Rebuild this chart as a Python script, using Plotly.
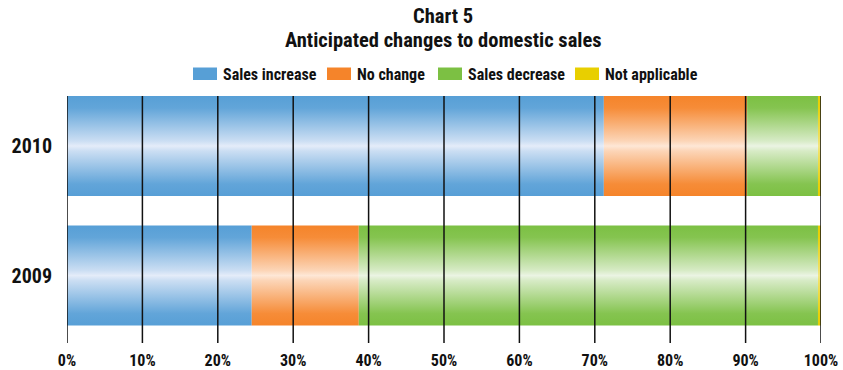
import plotly.graph_objects as go

# Survey shares (percent of respondents) by year
years = ["2009", "2010"]
series = ["Sales increase", "No change", "Sales decrease", "Not applicable"]
sales_increase = [24.5, 71.2]
no_change = [14.2, 19.0]
sales_decrease = [60.9, 9.4]
not_applicable = [0.4, 0.4]
x_ticks = [0, 10, 20, 30, 40, 50, 60, 70, 80, 90, 100]
x_tick_labels = [f"{v}%" for v in x_ticks]
title_lines = ["Chart 5", "Anticipated changes to domestic sales"]

values = [sales_increase, no_change, sales_decrease, not_applicable]
edge_colors = ["#579fd6", "#f5842a", "#7cc043", "#e8cf00"]
mid_colors = ["#e4ecf9", "#fee7d6", "#ebf4e3", "#f3e680"]

FONT = "Roboto Condensed, Roboto, sans-serif"
INK = "#111111"
HALF = 0.386  # half of the bar thickness in category units

W, H = 843, 370
ML, MR, MT, MB = 67, 22, 96, 27
PW, PH = W - ML - MR, H - MT - MB


def px_x(px):
    return (px - ML) / PW


def px_y(py):
    return 1 - (py - MT) / PH


def blend(c1, c2, t):
    a = [int(c1[i:i + 2], 16) for i in (1, 3, 5)]
    b = [int(c2[i:i + 2], 16) for i in (1, 3, 5)]
    return "#" + "".join(f"{round(a[k] + (b[k] - a[k]) * t):02x}" for k in range(3))


fig = go.Figure()

# Cylinder-shaded stacked segments, one filled polygon per segment
for row, year in enumerate(years):
    left = 0.0
    for s, name in enumerate(series):
        v = values[s][row]
        right = left + v
        edge, mid = edge_colors[s], mid_colors[s]
        scale = [
            [0.0, edge],
            [0.12, blend(edge, mid, 0.08)],
            [0.45, blend(edge, mid, 0.82)],
            [0.5, mid],
            [0.55, blend(edge, mid, 0.82)],
            [0.88, blend(edge, mid, 0.08)],
            [1.0, edge],
        ]
        fig.add_trace(go.Scatter(
            x=[left, right, right, left, left],
            y=[row - HALF, row - HALF, row + HALF, row + HALF, row - HALF],
            mode="lines",
            line=dict(width=0),
            fill="toself",
            fillgradient=dict(type="vertical", colorscale=scale),
            name=name,
            showlegend=False,
            hovertemplate=f"{year} – {name}: {v}%<extra></extra>",
        ))
        left = right

# Vertical gridlines drawn over the bars
shapes = []
for t in x_ticks:
    shapes.append(dict(type="line", xref="x", yref="paper", x0=t, x1=t, y0=0, y1=1,
                       line=dict(color=INK, width=1.5), layer="above"))

annotations = []

# Two-line bold title
for text, cy in zip(title_lines, [15.5, 40.5]):
    annotations.append(dict(xref="paper", yref="paper", x=px_x(443), y=px_y(cy),
                            xanchor="center", yanchor="middle", showarrow=False,
                            text=f"<b>{text}</b>",
                            font=dict(family=FONT, size=20.5, color=INK)))

# Legend row: swatch + label
legend_swatch_px = [193, 327, 438, 575]
for s, name in enumerate(series):
    x0 = legend_swatch_px[s]
    shapes.append(dict(type="rect", xref="paper", yref="paper",
                       x0=px_x(x0), x1=px_x(x0 + 24), y0=px_y(80), y1=px_y(67.5),
                       fillcolor=edge_colors[s], line=dict(width=0), layer="above"))
    annotations.append(dict(xref="paper", yref="paper", x=px_x(x0 + 28), y=px_y(74),
                            xanchor="left", yanchor="middle", showarrow=False,
                            text=f"<b>{name}</b>",
                            font=dict(family=FONT, size=16, color=INK)))

fig.update_layout(
    width=W, height=H,
    margin=dict(l=ML, r=MR, t=MT, b=MB),
    paper_bgcolor="white", plot_bgcolor="white",
    xaxis=dict(range=[0, 100], tickvals=x_ticks, ticktext=[f"<b>{t}</b>" for t in x_tick_labels],
               showgrid=False, zeroline=False, showline=False, ticks="",
               automargin=False, ticklabelstandoff=6,
               tickfont=dict(family=FONT, size=16, color=INK)),
    yaxis=dict(range=[-0.521, 1.386], tickvals=[0, 1], ticktext=[f"<b>{y}</b>" for y in years],
               showgrid=False, zeroline=False, showline=False, ticks="",
               automargin=False, ticklabelstandoff=14,
               tickfont=dict(family=FONT, size=20, color=INK)),
    shapes=shapes,
    annotations=annotations,
    showlegend=False,
)

fig.write_html("out.html")
